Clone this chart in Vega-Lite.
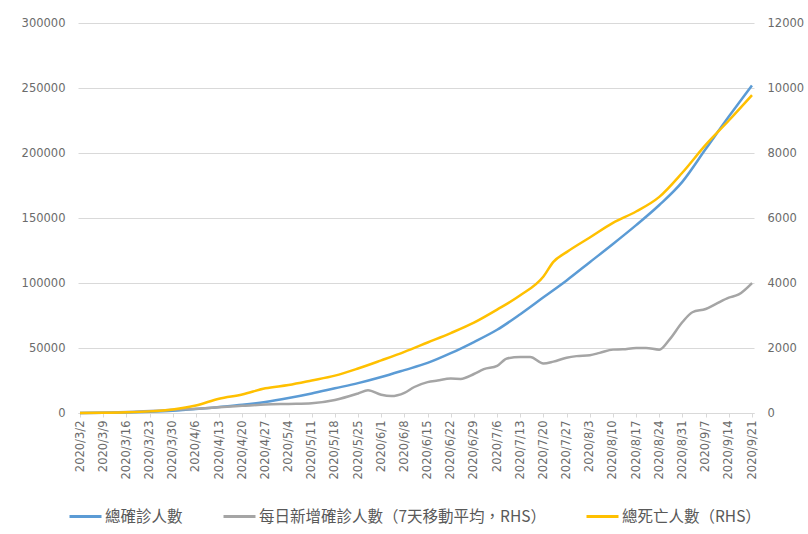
{
  "$schema": "https://vega.github.io/schema/vega-lite/v6.json",
  "width": 676,
  "height": 390,
  "autosize": "none",
  "padding": {"left": 78, "top": 23, "right": 54, "bottom": 121},
  "background": "white",
  "config": {
    "view": {"stroke": null},
    "axis": {"labelFont": "DejaVu Sans", "labelFontSize": 11.5, "labelColor": "#6b6b6b", "titleColor": "#595959"}
  },
  "datasets": {
    "total": [
      {"date": "2020/3/2", "value": 0}, {"date": "2020/3/9", "value": 100}, {"date": "2020/3/16", "value": 400},
      {"date": "2020/3/23", "value": 900}, {"date": "2020/3/30", "value": 1700}, {"date": "2020/4/6", "value": 3000},
      {"date": "2020/4/13", "value": 4600}, {"date": "2020/4/20", "value": 6300}, {"date": "2020/4/27", "value": 8500},
      {"date": "2020/5/4", "value": 11500}, {"date": "2020/5/11", "value": 15000}, {"date": "2020/5/18", "value": 19000},
      {"date": "2020/5/25", "value": 23000}, {"date": "2020/6/1", "value": 27700}, {"date": "2020/6/8", "value": 33000},
      {"date": "2020/6/15", "value": 38500}, {"date": "2020/6/22", "value": 46000}, {"date": "2020/6/29", "value": 54600},
      {"date": "2020/7/6", "value": 64000}, {"date": "2020/7/13", "value": 76000}, {"date": "2020/7/20", "value": 89000},
      {"date": "2020/7/27", "value": 102000}, {"date": "2020/8/3", "value": 116000}, {"date": "2020/8/10", "value": 130000},
      {"date": "2020/8/17", "value": 144500}, {"date": "2020/8/24", "value": 160000}, {"date": "2020/8/31", "value": 178000},
      {"date": "2020/9/7", "value": 203000}, {"date": "2020/9/14", "value": 228000}, {"date": "2020/9/21", "value": 252000}
    ],
    "rhs": [
      {"date": "2020/3/2", "series": "每日新增確診人數（7天移動平均，RHS）", "value": 0},
      {"date": "2020/3/9", "series": "每日新增確診人數（7天移動平均，RHS）", "value": 10},
      {"date": "2020/3/16", "series": "每日新增確診人數（7天移動平均，RHS）", "value": 30},
      {"date": "2020/3/23", "series": "每日新增確診人數（7天移動平均，RHS）", "value": 60},
      {"date": "2020/3/30", "series": "每日新增確診人數（7天移動平均，RHS）", "value": 100},
      {"date": "2020/4/6", "series": "每日新增確診人數（7天移動平均，RHS）", "value": 130},
      {"date": "2020/4/13", "series": "每日新增確診人數（7天移動平均，RHS）", "value": 180},
      {"date": "2020/4/20", "series": "每日新增確診人數（7天移動平均，RHS）", "value": 220},
      {"date": "2020/4/27", "series": "每日新增確診人數（7天移動平均，RHS）", "value": 260},
      {"date": "2020/5/4", "series": "每日新增確診人數（7天移動平均，RHS）", "value": 280},
      {"date": "2020/5/11", "series": "每日新增確診人數（7天移動平均，RHS）", "value": 300},
      {"date": "2020/5/18", "series": "每日新增確診人數（7天移動平均，RHS）", "value": 400},
      {"date": "2020/5/25", "series": "每日新增確診人數（7天移動平均，RHS）", "value": 600},
      {"date": "2020/5/28", "series": "每日新增確診人數（7天移動平均，RHS）", "value": 700},
      {"date": "2020/6/1", "series": "每日新增確診人數（7天移動平均，RHS）", "value": 560},
      {"date": "2020/6/4", "series": "每日新增確診人數（7天移動平均，RHS）", "value": 520},
      {"date": "2020/6/8", "series": "每日新增確診人數（7天移動平均，RHS）", "value": 620},
      {"date": "2020/6/11", "series": "每日新增確診人數（7天移動平均，RHS）", "value": 800},
      {"date": "2020/6/15", "series": "每日新增確診人數（7天移動平均，RHS）", "value": 950},
      {"date": "2020/6/18", "series": "每日新增確診人數（7天移動平均，RHS）", "value": 1000},
      {"date": "2020/6/22", "series": "每日新增確診人數（7天移動平均，RHS）", "value": 1060},
      {"date": "2020/6/25", "series": "每日新增確診人數（7天移動平均，RHS）", "value": 1050},
      {"date": "2020/6/29", "series": "每日新增確診人數（7天移動平均，RHS）", "value": 1200},
      {"date": "2020/7/2", "series": "每日新增確診人數（7天移動平均，RHS）", "value": 1350},
      {"date": "2020/7/6", "series": "每日新增確診人數（7天移動平均，RHS）", "value": 1450},
      {"date": "2020/7/9", "series": "每日新增確診人數（7天移動平均，RHS）", "value": 1680},
      {"date": "2020/7/13", "series": "每日新增確診人數（7天移動平均，RHS）", "value": 1720},
      {"date": "2020/7/16", "series": "每日新增確診人數（7天移動平均，RHS）", "value": 1720},
      {"date": "2020/7/20", "series": "每日新增確診人數（7天移動平均，RHS）", "value": 1520},
      {"date": "2020/7/23", "series": "每日新增確診人數（7天移動平均，RHS）", "value": 1580},
      {"date": "2020/7/27", "series": "每日新增確診人數（7天移動平均，RHS）", "value": 1700},
      {"date": "2020/7/30", "series": "每日新增確診人數（7天移動平均，RHS）", "value": 1750},
      {"date": "2020/8/3", "series": "每日新增確診人數（7天移動平均，RHS）", "value": 1780},
      {"date": "2020/8/6", "series": "每日新增確診人數（7天移動平均，RHS）", "value": 1850},
      {"date": "2020/8/10", "series": "每日新增確診人數（7天移動平均，RHS）", "value": 1950},
      {"date": "2020/8/13", "series": "每日新增確診人數（7天移動平均，RHS）", "value": 1960},
      {"date": "2020/8/17", "series": "每日新增確診人數（7天移動平均，RHS）", "value": 2000},
      {"date": "2020/8/20", "series": "每日新增確診人數（7天移動平均，RHS）", "value": 2000},
      {"date": "2020/8/24", "series": "每日新增確診人數（7天移動平均，RHS）", "value": 1950},
      {"date": "2020/8/27", "series": "每日新增確診人數（7天移動平均，RHS）", "value": 2250},
      {"date": "2020/8/31", "series": "每日新增確診人數（7天移動平均，RHS）", "value": 2800},
      {"date": "2020/9/3", "series": "每日新增確診人數（7天移動平均，RHS）", "value": 3100},
      {"date": "2020/9/7", "series": "每日新增確診人數（7天移動平均，RHS）", "value": 3200},
      {"date": "2020/9/10", "series": "每日新增確診人數（7天移動平均，RHS）", "value": 3350},
      {"date": "2020/9/14", "series": "每日新增確診人數（7天移動平均，RHS）", "value": 3550},
      {"date": "2020/9/17", "series": "每日新增確診人數（7天移動平均，RHS）", "value": 3650},
      {"date": "2020/9/21", "series": "每日新增確診人數（7天移動平均，RHS）", "value": 4000},
      {"date": "2020/3/2", "series": "總死亡人數（RHS）", "value": 0},
      {"date": "2020/3/9", "series": "總死亡人數（RHS）", "value": 5},
      {"date": "2020/3/16", "series": "總死亡人數（RHS）", "value": 20},
      {"date": "2020/3/23", "series": "總死亡人數（RHS）", "value": 50},
      {"date": "2020/3/30", "series": "總死亡人數（RHS）", "value": 110},
      {"date": "2020/4/6", "series": "總死亡人數（RHS）", "value": 230},
      {"date": "2020/4/13", "series": "總死亡人數（RHS）", "value": 440},
      {"date": "2020/4/20", "series": "總死亡人數（RHS）", "value": 570},
      {"date": "2020/4/27", "series": "總死亡人數（RHS）", "value": 760},
      {"date": "2020/5/4", "series": "總死亡人數（RHS）", "value": 860},
      {"date": "2020/5/11", "series": "總死亡人數（RHS）", "value": 1000},
      {"date": "2020/5/18", "series": "總死亡人數（RHS）", "value": 1150},
      {"date": "2020/5/25", "series": "總死亡人數（RHS）", "value": 1370},
      {"date": "2020/6/1", "series": "總死亡人數（RHS）", "value": 1620},
      {"date": "2020/6/8", "series": "總死亡人數（RHS）", "value": 1880},
      {"date": "2020/6/15", "series": "總死亡人數（RHS）", "value": 2170},
      {"date": "2020/6/22", "series": "總死亡人數（RHS）", "value": 2460},
      {"date": "2020/6/29", "series": "總死亡人數（RHS）", "value": 2780},
      {"date": "2020/7/6", "series": "總死亡人數（RHS）", "value": 3180},
      {"date": "2020/7/13", "series": "總死亡人數（RHS）", "value": 3620},
      {"date": "2020/7/20", "series": "總死亡人數（RHS）", "value": 4200},
      {"date": "2020/7/23", "series": "總死亡人數（RHS）", "value": 4650},
      {"date": "2020/7/27", "series": "總死亡人數（RHS）", "value": 4950},
      {"date": "2020/8/3", "series": "總死亡人數（RHS）", "value": 5400},
      {"date": "2020/8/10", "series": "總死亡人數（RHS）", "value": 5850},
      {"date": "2020/8/17", "series": "總死亡人數（RHS）", "value": 6200},
      {"date": "2020/8/24", "series": "總死亡人數（RHS）", "value": 6650},
      {"date": "2020/8/31", "series": "總死亡人數（RHS）", "value": 7400},
      {"date": "2020/9/7", "series": "總死亡人數（RHS）", "value": 8250},
      {"date": "2020/9/14", "series": "總死亡人數（RHS）", "value": 9000},
      {"date": "2020/9/21", "series": "總死亡人數（RHS）", "value": 9780}
    ]
  },
  "encoding": {
    "x": {
      "field": "date",
      "type": "temporal",
      "scale": {"domain": [{"year": 2020, "month": 3, "date": 2}, {"year": 2020, "month": 9, "date": 21}], "padding": 2},
      "axis": {
        "title": null,
        "format": "%Y/%-m/%-d",
        "labelAngle": -90,
        "labelOverlap": false,
        "labelFlush": false,
        "labelPadding": 3,
        "grid": false,
        "domainColor": "#d9d9d9",
        "tickColor": "#d9d9d9",
        "tickSize": 4,
        "values": [
          {"year": 2020, "month": 3, "date": 2}, {"year": 2020, "month": 3, "date": 9}, {"year": 2020, "month": 3, "date": 16},
          {"year": 2020, "month": 3, "date": 23}, {"year": 2020, "month": 3, "date": 30}, {"year": 2020, "month": 4, "date": 6},
          {"year": 2020, "month": 4, "date": 13}, {"year": 2020, "month": 4, "date": 20}, {"year": 2020, "month": 4, "date": 27},
          {"year": 2020, "month": 5, "date": 4}, {"year": 2020, "month": 5, "date": 11}, {"year": 2020, "month": 5, "date": 18},
          {"year": 2020, "month": 5, "date": 25}, {"year": 2020, "month": 6, "date": 1}, {"year": 2020, "month": 6, "date": 8},
          {"year": 2020, "month": 6, "date": 15}, {"year": 2020, "month": 6, "date": 22}, {"year": 2020, "month": 6, "date": 29},
          {"year": 2020, "month": 7, "date": 6}, {"year": 2020, "month": 7, "date": 13}, {"year": 2020, "month": 7, "date": 20},
          {"year": 2020, "month": 7, "date": 27}, {"year": 2020, "month": 8, "date": 3}, {"year": 2020, "month": 8, "date": 10},
          {"year": 2020, "month": 8, "date": 17}, {"year": 2020, "month": 8, "date": 24}, {"year": 2020, "month": 8, "date": 31},
          {"year": 2020, "month": 9, "date": 7}, {"year": 2020, "month": 9, "date": 14}, {"year": 2020, "month": 9, "date": 21}
        ]
      }
    }
  },
  "layer": [
    {
      "data": {"name": "total"},
      "transform": [{"calculate": "'總確診人數'", "as": "series"}],
      "mark": {"type": "line", "strokeWidth": 2.5, "interpolate": "monotone"},
      "encoding": {
        "y": {
          "field": "value",
          "type": "quantitative",
          "scale": {"domain": [0, 300000], "nice": false},
          "axis": {
            "title": null,
            "values": [0, 50000, 100000, 150000, 200000, 250000, 300000],
            "format": "d",
            "domain": false,
            "ticks": false,
            "labelPadding": 13,
            "gridColor": "#d9d9d9",
            "gridWidth": 1
          }
        },
        "color": {
          "field": "series",
          "type": "nominal",
          "scale": {
            "domain": ["總確診人數", "每日新增確診人數（7天移動平均，RHS）", "總死亡人數（RHS）"],
            "range": ["#5B9BD5", "#A5A5A5", "#FFC000"]
          },
          "legend": {
            "title": null,
            "orient": "none",
            "direction": "horizontal",
            "legendX": -10,
            "legendY": 476,
            "padding": 0,
            "symbolType": "stroke",
            "symbolSize": 1024,
            "symbolStrokeWidth": 3,
            "labelFont": "Noto Sans CJK TC",
            "labelFontSize": 15.5,
            "labelColor": "#595959",
            "labelOffset": 2,
            "labelLimit": 400,
            "columnPadding": 34
          }
        }
      }
    },
    {
      "data": {"name": "rhs"},
      "mark": {"type": "line", "strokeWidth": 2.5, "interpolate": "monotone"},
      "encoding": {
        "y": {
          "field": "value",
          "type": "quantitative",
          "scale": {"domain": [0, 12000], "nice": false},
          "axis": {
            "title": null,
            "orient": "right",
            "values": [0, 2000, 4000, 6000, 8000, 10000, 12000],
            "format": "d",
            "domain": false,
            "ticks": false,
            "grid": false,
            "labelPadding": 13
          }
        },
        "color": {"field": "series", "type": "nominal"}
      }
    }
  ],
  "resolve": {"scale": {"y": "independent"}}
}
